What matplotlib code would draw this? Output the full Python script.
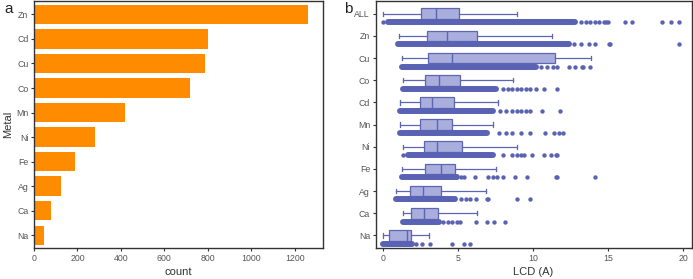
import matplotlib
matplotlib.use("Agg")
import matplotlib.pyplot as plt

# panel a: structure counts per metal
METALS_A = ["Zn", "Cd", "Cu", "Co", "Mn", "Ni", "Fe", "Ag", "Ca", "Na"]
COUNTS = [1262, 799, 788, 716, 418, 281, 190, 123, 80, 45]
A_XTICKS = [0, 200, 400, 600, 800, 1000, 1200]

# panel b: LCD box statistics per metal
METALS_B = ["ALL", "Zn", "Cu", "Co", "Cd", "Mn", "Ni", "Fe", "Ag", "Ca", "Na"]
WHISLO = [0.0, 1.07, 1.27, 1.33, 1.13, 1.09, 1.33, 1.22, 0.85, 1.33, 0.0]
Q1 = [2.51, 2.93, 3.00, 2.76, 2.47, 2.47, 2.69, 2.78, 1.80, 1.82, 0.36]
MED = [3.51, 4.27, 4.56, 3.73, 3.27, 3.56, 3.56, 3.82, 2.67, 2.73, 1.56]
Q3 = [5.07, 6.27, 11.45, 5.11, 4.69, 4.56, 5.25, 4.76, 3.87, 3.62, 1.87]
WHISHI = [8.89, 11.27, 13.83, 8.62, 7.62, 7.33, 8.93, 7.53, 6.87, 6.22, 3.07]

# range where the raw points overlap into a solid band
DENSE_LO = [0.3, 1.0, 1.27, 1.33, 1.13, 1.09, 1.67, 1.22, 0.85, 1.33, 0.0]
DENSE_HI = [12.8, 12.4, 10.2, 7.5, 7.3, 6.9, 7.3, 4.9, 4.8, 3.7, 1.9]
# the sparse points outside that band
SPARSE = [
    [0.0, 13.2, 13.5, 13.8, 14.1, 14.4, 14.7, 14.85, 15.0, 16.1, 16.6, 18.6, 19.2, 19.7],
    [12.7, 13.2, 13.7, 14.1, 15.05, 15.15, 19.7],
    [10.5, 10.9, 11.3, 11.6, 12.4, 12.8, 13.25, 13.35, 13.8],
    [8.0, 8.3, 8.6, 8.9, 9.2, 9.5, 9.8, 10.2, 10.7, 11.56],
    [7.8, 8.2, 8.6, 8.9, 9.2, 9.5, 9.8, 10.56, 11.78],
    [7.7, 8.2, 8.6, 9.2, 9.8, 10.8, 11.4, 11.7, 12.0],
    [1.33, 8.0, 8.6, 8.9, 9.2, 9.4, 9.9, 10.7, 11.2, 11.5, 11.6],
    [5.2, 5.4, 6.1, 7.0, 7.3, 7.6, 8.0, 8.8, 9.6, 11.5, 11.6, 14.1],
    [5.2, 5.5, 5.8, 6.2, 6.9, 7.0, 8.9, 9.8],
    [4.0, 4.3, 4.6, 4.9, 5.1, 6.2, 6.9, 7.4, 8.15],
    [2.2, 2.56, 3.1, 4.56, 5.4, 5.78],
]
B_XTICKS = [0, 5, 10, 15, 20]

ORANGE = "#ff8c00"
BOXFILL = "#a9aedc"
BOXEDGE = "#5c66b4"
DOT = "#5a63b3"
FRAME = "#333333"
TICKTXT = "#555555"

plt.rcParams.update({
    "font.family": ["Liberation Sans", "DejaVu Sans"],
    "font.size": 6.5,
})


def frame(ax):
    for s in ax.spines.values():
        s.set_color(FRAME)
        s.set_linewidth(1.0)
    ax.tick_params(length=2.5, width=0.8, color=FRAME, labelcolor=TICKTXT,
                   labelsize=6.3, pad=1.5)


fig = plt.figure(figsize=(6.93, 2.79), dpi=100)

# ---- panel a
ax = fig.add_axes([0.049, 0.111, 0.417, 0.885])
pos = list(range(len(METALS_A)))
ax.barh(pos, COUNTS, height=0.79, color=ORANGE)
ax.set_yticks(pos)
ax.set_yticklabels(METALS_A)
ax.set_ylim(9.52, -0.54)
ax.set_xlim(0, 1330)
ax.set_xticks(A_XTICKS)
frame(ax)
ax.set_xlabel("count", fontsize=8, color="#333333", labelpad=3)
ax.set_ylabel("Metal", fontsize=8, color="#333333", labelpad=2)
fig.text(0.006, 0.955, "a", fontsize=11, color="#222222")

# ---- panel b
bx = fig.add_axes([0.542, 0.111, 0.456, 0.885])
stats = [dict(label=m, whislo=lo, q1=a, med=md, q3=b, whishi=hi, fliers=[])
         for m, lo, a, md, b, hi in zip(METALS_B, WHISLO, Q1, MED, Q3, WHISHI)]
ypos = list(range(len(METALS_B)))
bx.bxp(stats, positions=ypos, widths=0.48, vert=False, patch_artist=True,
       showfliers=False, capwidths=0.2,
       boxprops=dict(facecolor=BOXFILL, edgecolor=BOXEDGE, linewidth=0.9),
       medianprops=dict(color=BOXEDGE, linewidth=1.0),
       whiskerprops=dict(color=BOXEDGE, linewidth=0.9),
       capprops=dict(color=BOXEDGE, linewidth=0.9))

OFF = 0.38
for i in ypos:
    bx.hlines(i + OFF, DENSE_LO[i], DENSE_HI[i], color=DOT, linewidth=4.3,
              capstyle="round", zorder=3)
    bx.scatter(SPARSE[i], [i + OFF] * len(SPARSE[i]), s=10, color=DOT,
               linewidths=0, zorder=3)

bx.set_yticks(ypos)
bx.set_yticklabels(METALS_B)
bx.get_yticklabels()[METALS_B.index("Fe")].set_color("#8a3030")
bx.set_ylim(10.57, -0.57)
bx.set_xlim(-0.51, 20.56)
bx.set_xticks(B_XTICKS)
frame(bx)
bx.set_xlabel("LCD (A)", fontsize=8, color="#333333", labelpad=3)
fig.text(0.497, 0.955, "b", fontsize=11, color="#222222")

fig.savefig("out.png", dpi=100)
